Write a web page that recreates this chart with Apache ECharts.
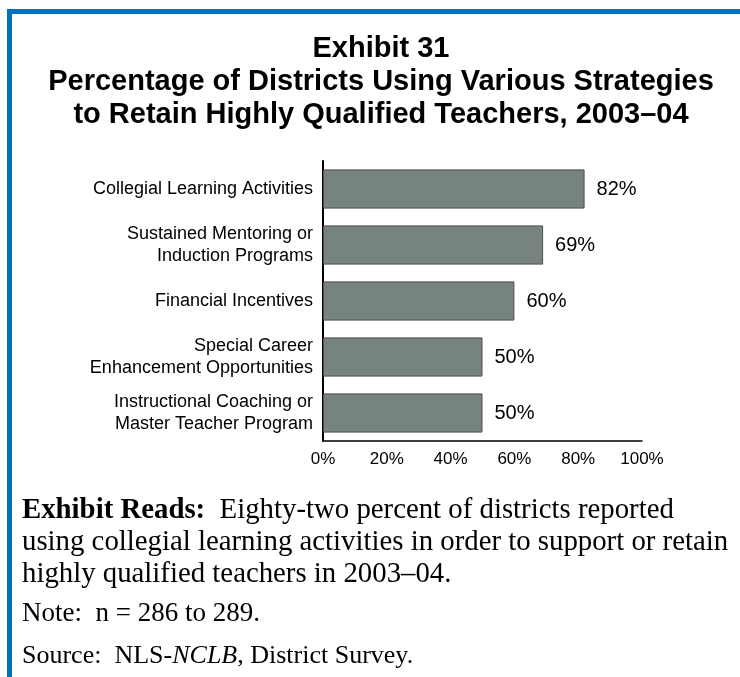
<!DOCTYPE html>
<html>
<head>
<meta charset="utf-8">
<script src="https://cdn.jsdelivr.net/npm/echarts@6/dist/echarts.min.js"></script>
<style>
  html, body { margin: 0; padding: 0; background: #ffffff; }
  #chart { width: 740px; height: 677px; }
</style>
</head>
<body>
<div id="chart"></div>
<script>
// Strategies, listed top to bottom
const strategies = [
  'Collegial Learning Activities',
  'Sustained Mentoring or\nInduction Programs',
  'Financial Incentives',
  'Special Career\nEnhancement Opportunities',
  'Instructional Coaching or\nMaster Teacher Program'
];
// Percent of districts using each strategy
const percentDistricts = [82, 69, 60, 50, 50];
// Value axis ticks
const axisTicks = [0, 20, 40, 60, 80, 100];

const titleLines = [
  'Exhibit 31',
  'Percentage of Districts Using Various Strategies',
  'to Retain Highly Qualified Teachers, 2003\u201304'
];

const chart = echarts.init(document.getElementById('chart'), null, { renderer: 'canvas' });

const sans = '"Liberation Sans", Arial, sans-serif';
const serif = '"Liberation Serif", "DejaVu Serif", serif';

chart.setOption({
  backgroundColor: '#ffffff',
  animation: false,
  title: {
    text: titleLines.join('\n'),
    left: 376,
    textAlign: 'center',
    top: 27,
    textStyle: {
      fontFamily: sans,
      fontWeight: 'bold',
      fontSize: 29,
      lineHeight: 33,
      color: '#000000'
    }
  },
  grid: { left: 323, right: 98, top: 161, bottom: 236, containLabel: false },
  xAxis: {
    type: 'value',
    min: axisTicks[0],
    max: axisTicks[axisTicks.length - 1],
    interval: 20,
    axisLine: { show: true, lineStyle: { color: '#000000', width: 1.5 } },
    axisTick: { show: false },
    splitLine: { show: false },
    axisLabel: {
      formatter: v => v + '%',
      fontFamily: sans,
      fontSize: 17,
      color: '#000000',
      margin: 10
    }
  },
  yAxis: {
    type: 'category',
    inverse: true,
    data: strategies,
    axisLine: { show: true, onZero: false, lineStyle: { color: '#000000', width: 2 } },
    axisTick: { show: false },
    axisLabel: {
      fontFamily: sans,
      fontSize: 18,
      lineHeight: 22,
      color: '#000000',
      align: 'right',
      margin: 10
    }
  },
  series: [{
    type: 'bar',
    data: percentDistricts,
    barCategoryGap: '30%',
    itemStyle: {
      color: '#76837f',
      borderColor: '#4f4f4f',
      borderWidth: 1
    },
    label: {
      show: true,
      position: 'right',
      distance: 12,
      formatter: p => p.value + '%',
      fontFamily: sans,
      fontSize: 20,
      color: '#000000'
    }
  }],
  graphic: [
    // frame: top and left edges
    { type: 'rect', shape: { x: 7, y: 9, width: 733, height: 5 }, style: { fill: '#0070c0' } },
    { type: 'rect', shape: { x: 7, y: 9, width: 5, height: 668 }, style: { fill: '#0070c0' } },
    {
      type: 'text', left: 22, top: 496,
      style: {
        text: '{b|Exhibit Reads:}  Eighty-two percent of districts reported',
        font: '28.8px ' + serif, fill: '#000000',
        rich: { b: { fontFamily: serif, fontSize: 28.8, fontWeight: 'bold', fill: '#000000' } }
      }
    },
    { type: 'text', left: 22, top: 528, style: { text: 'using collegial learning activities in order to support or retain', font: '28.8px ' + serif, fill: '#000000' } },
    { type: 'text', left: 22, top: 560, style: { text: 'highly qualified teachers in 2003\u201304.', font: '28.8px ' + serif, fill: '#000000' } },
    { type: 'text', left: 22, top: 600, style: { text: 'Note:  n = 286 to 289.', font: '27px ' + serif, fill: '#000000' } },
    {
      type: 'text', left: 22, top: 643,
      style: {
        text: 'Source:  NLS-{i|NCLB}, District Survey.',
        font: '26px ' + serif, fill: '#000000',
        rich: { i: { fontFamily: serif, fontSize: 26, fontStyle: 'italic', fill: '#000000' } }
      }
    }
  ]
});
</script>
</body>
</html>
